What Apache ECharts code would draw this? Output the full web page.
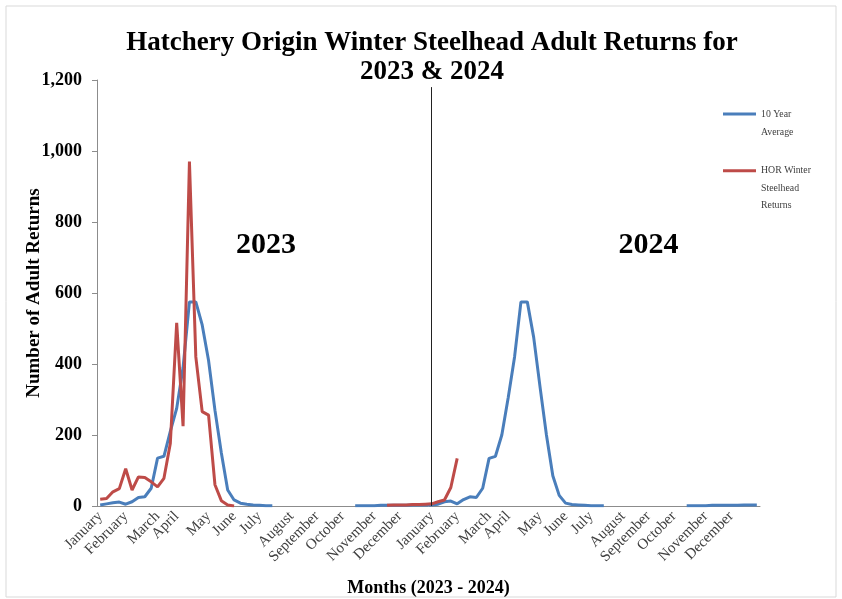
<!DOCTYPE html>
<html><head><meta charset="utf-8">
<script src="https://cdn.jsdelivr.net/npm/echarts@6/dist/echarts.min.js"></script>
<style>html,body{margin:0;padding:0;background:#fff}#c{width:842px;height:599px}</style>
</head><body><div id="c"></div>
<script>
// ---- data ----
const years = [2023, 2024];
const weeksPerYear = 52;
const monthNames = ['January','February','March','April','May','June','July','August','September','October','November','December'];
const monthStartWeek = [0,4,9,12,17,21,25,30,34,38,43,47];
const yTicks = [0, 200, 400, 600, 800, 1000, 1200];

// 10 Year Average, weekly: runs of values with their first week index (0 = first week of Jan 2023)
const avgRunStart = [0, 40, 52, 92];
const avgRuns = [
  [3,6,9,11,5,12,24,26,50,135,140,210,275,390,575,575,510,410,270,150,45,17,8,5,3,2,1,1],
  [1,1,1,1,2,2,2,2,2,3,3,3],
  [3,5,12,14,6,18,26,24,50,134,140,200,305,420,575,575,475,335,200,85,30,8,4,3,2,1,1,1],
  [1,1,1,1,2,2,2,2,2,3,3,3]
];
// HOR Winter Steelhead Returns, weekly runs
const horRunStart = [0, 45];
const horRuns = [
  [19,21,40,49,105,45,82,80,68,54,78,176,516,225,970,420,266,256,60,15,3,0],
  [2,3,3,3,4,4,5,6,12,17,52,134]
];

const dividerWeek = 52;
const dividerTop = 1180;
const yearLabels = [{text:'2023', week:26, value:735},{text:'2024', week:86, value:735}];

// ---- build ----
const categories = [];
years.forEach(y => { for (let w = 1; w <= weeksPerYear; w++) categories.push(y + ' W' + w); });
function buildSeries(starts, runs) {
  const out = categories.map(() => null);
  runs.forEach((run, k) => run.forEach((v, j) => { out[starts[k] + j] = v; }));
  return out;
}
const avgData = buildSeries(avgRunStart, avgRuns);
const horData = buildSeries(horRunStart, horRuns);
const labelIdx = {};
years.forEach((y, yi) => monthStartWeek.forEach((w, mi) => { labelIdx[yi * weeksPerYear + w] = monthNames[mi]; }));

const serif = 'Liberation Serif, Times New Roman, serif';
const NB = '\u00a0';
const chart = echarts.init(document.getElementById('c'));
chart.setOption({
  animation: false,
  backgroundColor: '#fff',
  graphic: [{type:'rect', shape:{x:6, y:6, width:830, height:591}, style:{fill:'none', stroke:'#d9d9d9', lineWidth:1}, silent:true}],
  title: {
    text: 'Hatchery Origin Winter Steelhead Adult Returns for\n2023 & 2024',
    left: 427, top: 24, textAlign: 'center',
    textStyle: {fontFamily: serif, fontWeight: 'bold', fontSize: 27, lineHeight: 29, color: '#000'}
  },
  legend: [
    {data: ['10 Year Average'],
     left: 723, top: 87, padding: 0, orient: 'vertical', icon: 'rect', itemWidth: 33, itemHeight: 3,
     formatter: () => NB + '\n10 Year\nAverage',
     textStyle: {fontFamily: serif, fontSize: 9.8, lineHeight: 18, color: '#404040'}},
    {data: ['HOR Winter Steelhead Returns'],
     left: 723, top: 127, padding: 0, orient: 'vertical', icon: 'rect', itemWidth: 33, itemHeight: 3,
     formatter: () => NB + '\n' + NB + '\nHOR Winter\nSteelhead\nReturns',
     textStyle: {fontFamily: serif, fontSize: 9.8, lineHeight: 17.5, color: '#404040'}}
  ],
  grid: {left: 97, right: 82, top: 80, bottom: 93, containLabel: false, outerBoundsMode: 'none'},
  xAxis: {
    type: 'category', data: categories, boundaryGap: true,
    name: 'Months (2023 - 2024)', nameLocation: 'middle', nameGap: 73, nameMoveOverlap: false,
    nameTextStyle: {fontFamily: serif, fontWeight: 'bold', fontSize: 18, color: '#000'},
    axisLine: {show: true, lineStyle: {color: '#8c8c8c', width: 1}},
    axisTick: {show: false},
    axisLabel: {
      interval: (i) => labelIdx[i] !== undefined,
      formatter: (v, i) => labelIdx[i] || '',
      rotate: 45, margin: 8, fontFamily: serif, fontSize: 15, color: '#404040'
    },
    splitLine: {show: false}
  },
  yAxis: {
    type: 'value', min: yTicks[0], max: yTicks[yTicks.length-1], interval: yTicks[1]-yTicks[0],
    name: 'Number of Adult Returns', nameLocation: 'middle', nameGap: 53, nameRotate: 90, nameMoveOverlap: false,
    nameTextStyle: {fontFamily: serif, fontWeight: 'bold', fontSize: 19, color: '#000'},
    axisLine: {show: true, lineStyle: {color: '#8c8c8c', width: 1}},
    axisTick: {show: true, inside: false, length: 5, lineStyle: {color: '#8c8c8c'}},
    axisLabel: {fontFamily: serif, fontWeight: 'bold', fontSize: 18, color: '#000', margin: 15},
    splitLine: {show: false}
  },
  series: [
    {name: '10 Year Average', type: 'line', data: avgData, showSymbol: false, symbol: 'none',
     lineStyle: {color: '#4a7ebb', width: 3}, itemStyle: {color: '#4a7ebb'}, connectNulls: false,
     markLine: {silent: true, symbol: 'none', label: {show: false},
       lineStyle: {color: '#222', width: 1, type: 'solid'},
       data: [[{coord: [dividerWeek, 0]}, {coord: [dividerWeek, dividerTop]}]]},
     markPoint: {silent: true, symbol: 'rect', symbolSize: 1, itemStyle: {color: 'rgba(0,0,0,0)'},
       label: {show: true, position: 'inside', fontFamily: serif, fontWeight: 'bold', fontSize: 30, color: '#000',
         formatter: p => p.name},
       data: yearLabels.map(d => ({name: d.text, coord: [d.week, d.value]}))}
    },
    {name: 'HOR Winter Steelhead Returns', type: 'line', data: horData, showSymbol: false, symbol: 'none',
     lineStyle: {color: '#be4b48', width: 3}, itemStyle: {color: '#be4b48'}, connectNulls: false}
  ]
});
</script></body></html>
